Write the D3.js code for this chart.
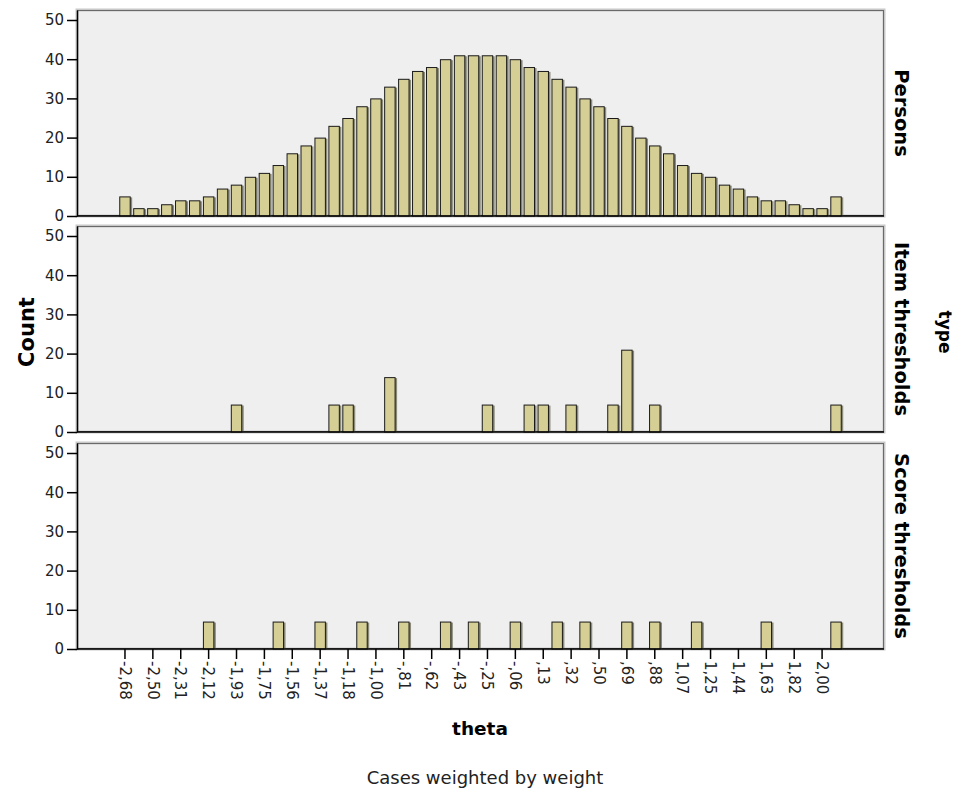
<!DOCTYPE html>
<html>
<head>
<meta charset="utf-8">
<script src="https://cdn.jsdelivr.net/npm/d3@7"></script>
<style>
  html, body { margin: 0; padding: 0; background: #fff; }
  svg { display: block; }
  text { font-family: "DejaVu Sans", Verdana, sans-serif; fill: #000; }
</style>
</head>
<body>
<svg id="chart" width="960" height="791"></svg>
<script>
// Histogram bins of theta (52 bins); ticks label every second bin
const tickLabels = ["-2,68","-2,50","-2,31","-2,12","-1,93","-1,75","-1,56","-1,37","-1,18","-1,00",
  "-,81","-,62","-,43","-,25","-,06",",13",",32",",50",",69",",88",
  "1,07","1,25","1,44","1,63","1,82","2,00"];
const binCount = 52;

// Weighted counts per bin
const persons = [5,2,2,3,4,4,5,7,8,10,11,13,16,18,20,23,25,28,30,33,35,37,38,40,41,41,
                 41,41,40,38,37,35,33,30,28,25,23,20,18,16,13,11,10,8,7,5,4,4,3,2,2,5];
const itemBins   = [8,15,16,19,26,29,30,32,35,36,38,51];
const itemCounts = [7,7,7,14,7,7,7,7,7,21,7,7];
const scoreBins   = [6,11,14,17,20,23,25,28,31,33,36,38,41,46,51];
const scoreCounts = [7,7,7,7,7,7,7,7,7,7,7,7,7,7,7];

const panelNames = ["Persons", "Item thresholds", "Score thresholds"];
const yTicks = [0,10,20,30,40,50];

const series = [
  persons.map((c, i) => ({bin: i, count: c})),
  itemBins.map((b, i) => ({bin: b, count: itemCounts[i]})),
  scoreBins.map((b, i) => ({bin: b, count: scoreCounts[i]}))
];

const svg = d3.select("#chart");
const left = 77, right = 884;
const panelTops = [10, 226, 443];
const panelH = 206;

const x = d3.scaleBand()
  .domain(d3.range(binCount))
  .range([118, 843])
  .paddingInner(0.18)
  .paddingOuter(0.09);

series.forEach((data, p) => {
  const top = panelTops[p], bottom = top + panelH;
  const y = d3.scaleLinear().domain([0, 52.55]).range([bottom, top]);
  const g = svg.append("g");

  // frame with soft edge
  g.append("rect")
    .attr("x", left).attr("y", top)
    .attr("width", right - left).attr("height", panelH)
    .attr("fill", "#efefef")
    .attr("stroke", "#c8c8c8").attr("stroke-width", 3);
  g.append("rect")
    .attr("x", left + 0.5).attr("y", top + 0.5)
    .attr("width", right - left - 1).attr("height", panelH - 1)
    .attr("fill", "none")
    .attr("stroke", "#6a6a6a").attr("stroke-width", 1);

  // bar shadows
  g.selectAll("rect.shadow").data(data).join("rect")
    .attr("class", "shadow")
    .attr("x", d => x(d.bin) + 1.5)
    .attr("y", d => y(d.count) + 1)
    .attr("width", x.bandwidth())
    .attr("height", d => y(0) - y(d.count) - 1)
    .attr("fill", "#8a8a7a");

  // bars
  g.selectAll("rect.bar").data(data).join("rect")
    .attr("class", "bar")
    .attr("x", d => x(d.bin) + 0.5)
    .attr("y", d => y(d.count) + 0.5)
    .attr("width", x.bandwidth() - 1)
    .attr("height", d => y(0) - y(d.count) - 0.5)
    .attr("fill", "#d5cf96")
    .attr("stroke", "#1a1a1a").attr("stroke-width", 1);

  // y axis
  const ya = g.append("g")
    .attr("transform", `translate(${left},0)`)
    .call(d3.axisLeft(y).tickValues(yTicks).tickSize(10).tickSizeOuter(0).tickPadding(3));
  ya.select(".domain").attr("stroke", "#000").attr("stroke-width", 1.5);
  ya.selectAll(".tick line").attr("stroke", "#000").attr("stroke-width", 1.5);
  ya.selectAll(".tick text")
    .style("font-size", "15px").style("fill", "#222");

  // baseline
  g.append("line")
    .attr("x1", left).attr("x2", right)
    .attr("y1", bottom).attr("y2", bottom)
    .attr("stroke", "#000").attr("stroke-width", 1.5);

  // facet label
  g.append("text")
    .attr("transform", `translate(895,${top + panelH / 2}) rotate(90)`)
    .attr("text-anchor", "middle")
    .style("font-size", "19.5px").style("font-weight", "bold")
    .text(panelNames[p]);

  if (p === series.length - 1) {
    const xa = g.append("g")
      .attr("transform", `translate(0,${bottom})`)
      .call(d3.axisBottom(x)
        .tickValues(d3.range(0, binCount, 2))
        .tickFormat(i => tickLabels[i / 2])
        .tickSize(10).tickSizeOuter(0));
    xa.select(".domain").remove();
    xa.selectAll(".tick line").attr("stroke", "#000").attr("stroke-width", 1.5);
    xa.selectAll(".tick text")
      .attr("transform", "rotate(90)")
      .attr("x", 12).attr("y", 0).attr("dy", "0.35em")
      .attr("text-anchor", "start")
      .style("font-size", "15px").style("fill", "#222");
  }
});

// axis titles
svg.append("text")
  .attr("transform", "translate(34,332) rotate(-90)")
  .attr("text-anchor", "middle")
  .style("font-size", "21px").style("font-weight", "bold")
  .text("Count");

svg.append("text")
  .attr("transform", "translate(939,332) rotate(90)")
  .attr("text-anchor", "middle")
  .style("font-size", "17px").style("font-weight", "bold")
  .text("type");

svg.append("text")
  .attr("x", 480).attr("y", 735)
  .attr("text-anchor", "middle")
  .style("font-size", "18.5px").style("font-weight", "bold")
  .text("theta");

svg.append("text")
  .attr("x", 485).attr("y", 784)
  .attr("text-anchor", "middle")
  .style("font-size", "18px").style("fill", "#222")
  .text("Cases weighted by weight");
</script>
</body>
</html>
